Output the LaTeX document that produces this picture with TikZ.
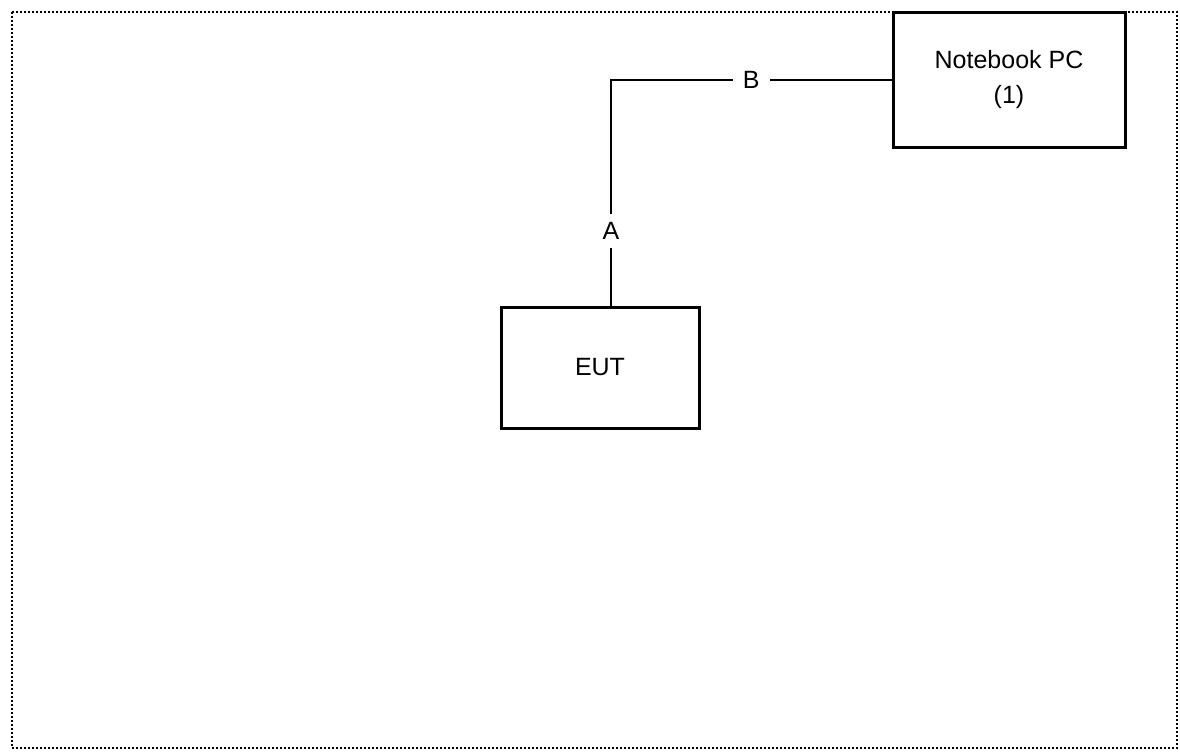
\documentclass[tikz,border=0pt]{standalone}
\usepackage{fontspec}
\setmainfont{Liberation Sans}
\begin{document}
\begin{tikzpicture}[x=0.5pt,y=-0.5pt,
  box/.style={draw=black,line width=1.5pt,rectangle,inner sep=0pt,align=center,
    font=\fontsize{12.5}{17.5}\selectfont,text=black},
  wire/.style={draw=black,line width=1pt},
  lbl/.style={fill=white,inner xsep=5pt,inner ysep=4pt,font=\fontsize{12.5}{15}\selectfont,text=black},
  frame/.style={draw=black,line width=1.2pt,dash pattern=on 1pt off 1pt}]
\useasboundingbox (0,0) rectangle (1180,751);
\draw[frame] (12,12) rectangle (1177,748);
\node[box,minimum width=116pt,minimum height=67.5pt] (nb) at (1009,79.5) {Notebook PC\\(1)};
\node[box,minimum width=99pt,minimum height=60.5pt] (eut) at (600,367.5) {EUT};
\coordinate (corner) at (611,80);
\draw[wire] (eut.north -| corner) -- node[lbl,pos=0.33] (la) {A} (corner) -- node[lbl,pos=0.5] (lb) {B} (nb.west |- corner);
\end{tikzpicture}
\end{document}
